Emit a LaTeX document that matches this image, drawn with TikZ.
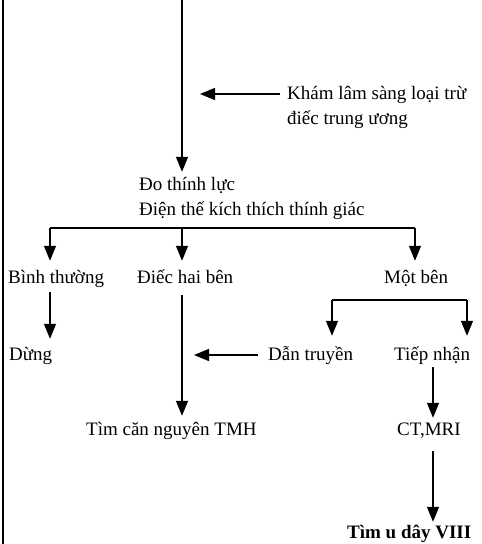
\documentclass[tikz,border=0pt]{standalone}
\usepackage{fontspec}
\setmainfont{Liberation Serif}
\usetikzlibrary{arrows.meta, positioning}

\begin{document}
\begin{tikzpicture}[x=1pt,y=-1pt,
    lbl/.style={font=\fontsize{19}{25}\selectfont, inner sep=0pt, text height=14pt, text depth=4pt},
    arr/.style={-{Triangle[length=15pt,width=12pt]}, line width=1.4pt},
    ln/.style={line width=1.4pt}]
\useasboundingbox (0,0) rectangle (482,544);
% Left margin rule
\draw[ln] (3,0) -- (3,544);
% Trunk
\coordinate (top) at (182,0);
\node[lbl, anchor=west] (kham) at (287,94) {Khám lâm sàng loại trừ};
\node[lbl, anchor=west] (kham2) at (287,119) {điếc trung ương};
\node[lbl, anchor=west] (do) at (139,185) {Đo thính lực};
\node[lbl, anchor=west] (dien) at (139,210) {Điện thế kích thích thính giác};
\draw[arr, shorten >=4pt] (top) -- (top |- do.north);
\draw[arr, shorten <=7pt, shorten >=18pt] (kham.west) -- (kham.west -| top);
% Three branches
\coordinate (b1) at (50,228);
\coordinate (b2) at (182,228);
\coordinate (b3) at (415,228);
\node[lbl, anchor=west] (binh) at (8,278) {Bình thường};
\node[lbl, anchor=west] (dhb) at (137,278) {Điếc hai bên};
\node[lbl, anchor=west] (mot) at (384,278) {Một bên};
\draw[ln] (b1) -- (b3);
\foreach \b/\n in {b1/binh, b2/dhb, b3/mot}
    \draw[arr, shorten >=8pt] (\b) -- (\b |- \n.north);
% Left: stop
\node[lbl, anchor=west] (dung) at (9,355) {Dừng};
\draw[arr, shorten <=5pt, shorten >=7pt] (binh.south -| b1) -- (dung.north -| b1);
% Middle: bilateral
\node[lbl, anchor=west] (tim) at (86,430) {Tìm căn nguyên TMH};
\draw[arr, shorten <=8pt, shorten >=5pt] (dhb.south -| b2) -- (tim.north -| b2);
% Right: one side
\coordinate (m1) at (332,300);
\coordinate (m2) at (467,300);
\node[lbl, anchor=west] (dan) at (268,355) {Dẫn truyền};
\node[lbl, anchor=west] (tiep) at (394,355) {Tiếp nhận};
\draw[ln] (m1) -- (m2);
\foreach \m/\n in {m1/dan, m2/tiep}
    \draw[arr, shorten >=10pt] (\m) -- (\m |- \n.north);
\draw[arr, shorten <=10pt, shorten >=12pt] (dan.west) -- (dan.west -| b2);
\node[lbl, anchor=west] (ct) at (397,430) {CT,MRI};
\node[lbl, anchor=west, font=\fontsize{19}{25}\selectfont\bfseries] (timu) at (347,533) {Tìm u dây VIII};
\draw[arr, shorten <=3pt, shorten >=3pt] (tiep.south -| 433,0) -- (ct.north -| 433,0);
\draw[arr, shorten <=12pt, shorten >=2pt] (ct.south -| 433,0) -- (timu.north -| 433,0);
\end{tikzpicture}
\end{document}
